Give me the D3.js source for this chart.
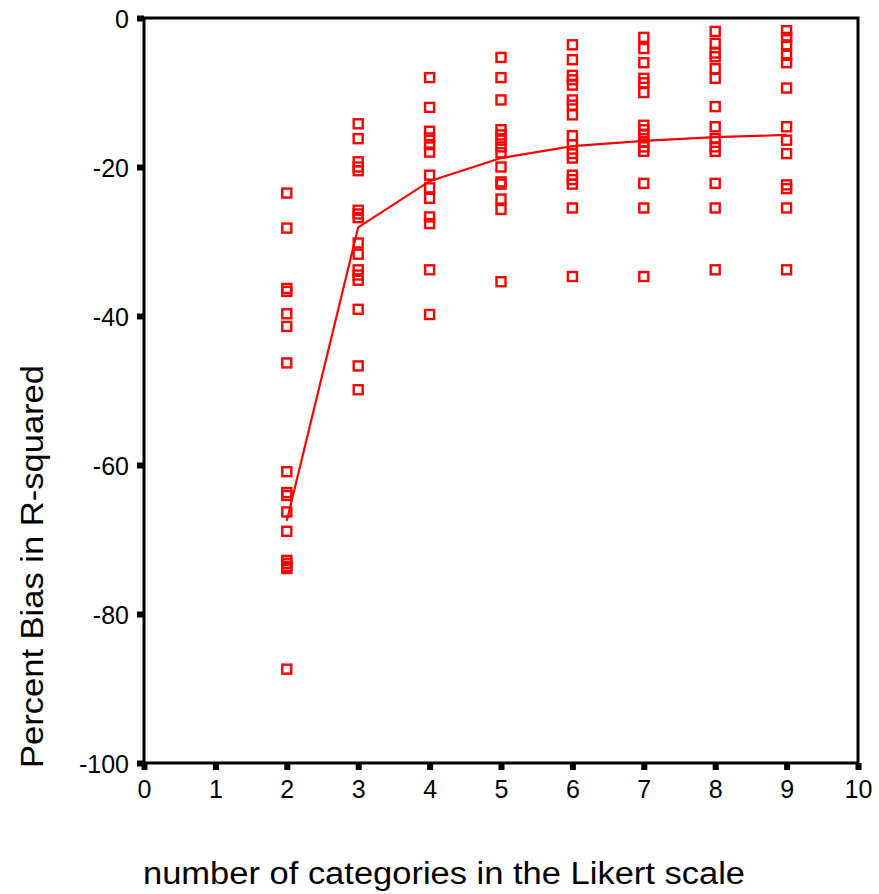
<!DOCTYPE html>
<html><head><meta charset="utf-8">
<script src="https://cdn.jsdelivr.net/npm/d3@7"></script>
<style>body{margin:0;background:#fff}svg{display:block}</style>
</head><body>
<script>
// Data
const categories = [2,3,4,5,6,7,8,9];
const biasK2 = [-23.5,-28.2,-36.3,-36.7,-39.7,-41.4,-46.3,-60.9,-63.7,-64.1,-66.3,-68.9,-72.8,-73.2,-73.6,-73.9,-87.4];
const biasK3 = [-14.2,-16.2,-19.3,-20.0,-20.5,-25.8,-26.3,-26.8,-30.2,-31.7,-33.8,-34.5,-35.2,-39.1,-46.7,-49.9];
const biasK4 = [-8.0,-12.0,-15.2,-16.1,-17.0,-18.0,-21.1,-22.8,-24.2,-26.7,-27.6,-33.8,-39.8];
const biasK5 = [-5.3,-8.0,-11.0,-15.0,-15.7,-16.4,-17.3,-18.1,-20.0,-22.0,-22.3,-24.3,-25.7,-35.4];
const biasK6 = [-3.6,-5.6,-7.7,-8.3,-9.0,-11.0,-11.7,-13.0,-15.8,-17.0,-18.2,-18.8,-21.1,-21.7,-22.3,-25.5,-34.7];
const biasK7 = [-2.6,-4.1,-6.0,-8.1,-8.7,-10.0,-14.4,-15.0,-15.7,-16.6,-17.3,-17.9,-22.2,-25.5,-34.7];
const biasK8 = [-1.8,-3.4,-4.7,-5.2,-6.8,-8.1,-11.9,-14.6,-16.2,-17.3,-17.9,-22.2,-25.5,-33.8];
const biasK9 = [-1.7,-2.6,-3.6,-5.0,-6.0,-9.4,-14.6,-16.4,-18.2,-22.4,-22.9,-25.5,-33.8];
const meanBias = [-67.5,-28.1,-21.9,-18.8,-17.2,-16.5,-16.0,-15.7];
const xTicks = [0,1,2,3,4,5,6,7,8,9,10];
const yTicks = [0,-20,-40,-60,-80,-100];
const xTitle = "number of categories in the Likert scale";
const yTitle = "Percent Bias in R-squared";

const seriesByCategory = [biasK2,biasK3,biasK4,biasK5,biasK6,biasK7,biasK8,biasK9];
const points = [];
categories.forEach((c,i)=>seriesByCategory[i].forEach(v=>points.push({x:c,y:v})));

const W=879,H=894;
const svg=d3.select("body").append("svg").attr("width",W).attr("height",H);
const x=d3.scaleLinear().domain([0,10]).range([144,858]);
const y=d3.scaleLinear().domain([-100,0]).range([763,18]);
const font="'Liberation Sans', Arial, sans-serif";
const fmt=d=>String(d);

// axes
const xa=svg.append("g").attr("transform",`translate(0,${y(-100)})`)
  .call(d3.axisBottom(x).tickValues(xTicks).tickSize(7).tickFormat(fmt));
const ya=svg.append("g").attr("transform",`translate(${x(0)},0)`)
  .call(d3.axisLeft(y).tickValues(yTicks).tickSize(7).tickFormat(fmt));
[xa,ya].forEach(g=>{
  g.select(".domain").remove();
  g.selectAll(".tick line").attr("stroke","#000").attr("stroke-width",6);
  g.selectAll(".tick text").attr("font-family",font).attr("font-size",25).attr("fill","#000");
});
xa.selectAll(".tick text").attr("y",35).attr("dy",0);
ya.selectAll(".tick text").attr("x",-15).attr("dy","0.37em");

// frame
svg.append("rect").attr("x",x(0)).attr("y",y(0)).attr("width",x(10)-x(0)).attr("height",y(-100)-y(0))
  .attr("fill","none").attr("stroke","#000").attr("stroke-width",3);

// mean line
svg.append("path").datum(categories.map((c,i)=>({x:c,y:meanBias[i]})))
  .attr("d",d3.line().x(d=>x(d.x)).y(d=>y(d.y)))
  .attr("fill","none").attr("stroke","#ff0000").attr("stroke-width",2.2);

// points
svg.append("g").selectAll("rect").data(points).join("rect")
  .attr("x",d=>x(d.x)-4.5).attr("y",d=>y(d.y)-4.5).attr("width",9).attr("height",9)
  .attr("fill","none").attr("stroke","#ff0000").attr("stroke-width",2.4);

// titles
svg.append("text").attr("x",143).attr("y",884)
  .attr("font-family",font).attr("font-size",31)
  .attr("textLength",602).attr("lengthAdjust","spacingAndGlyphs").text(xTitle);
svg.append("text").attr("transform","translate(43,768) rotate(-90)")
  .attr("font-family",font).attr("font-size",31)
  .attr("textLength",403).attr("lengthAdjust","spacingAndGlyphs").text(yTitle);
</script>
</body></html>
